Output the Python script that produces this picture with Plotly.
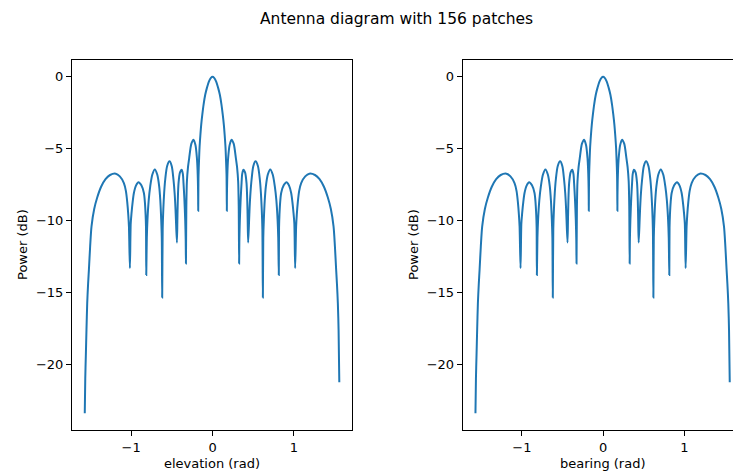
import plotly.graph_objects as go

# ---- data ----
angles = [
    -1.571, -1.565, -1.558, -1.550, -1.541, -1.530, -1.520, -1.505, -1.488, -1.455, -1.418,
    -1.370, -1.316, -1.260, -1.190, -1.140, -1.090, -1.065, -1.049, -1.036, -1.028, -1.016,
    -1.006, -0.996, -0.982, -0.967, -0.940, -0.910, -0.875, -0.844, -0.832, -0.823, -0.818, -0.815,
    -0.808, -0.800, -0.785, -0.766, -0.740, -0.710, -0.680, -0.656, -0.642, -0.631, -0.624, -0.619,
    -0.613, -0.605, -0.595, -0.582, -0.558, -0.529, -0.502, -0.480, -0.466, -0.456, -0.450, -0.438,
    -0.432, -0.427, -0.418, -0.400, -0.380, -0.365, -0.357, -0.347, -0.336, -0.330, -0.327,
    -0.322, -0.315, -0.302, -0.287, -0.260, -0.234, -0.210, -0.192, -0.184, -0.180, -0.177, -0.176,
    -0.174, -0.172, -0.166, -0.160, -0.150, -0.139, -0.125, -0.110, -0.090, -0.069, -0.045, -0.020, 0.0,
    0.020, 0.045, 0.069, 0.090, 0.110, 0.125, 0.139, 0.150, 0.160, 0.166, 0.172, 0.174,
    0.176, 0.177, 0.180, 0.184, 0.192, 0.210, 0.234, 0.260, 0.287, 0.302, 0.315, 0.322,
    0.327, 0.330, 0.336, 0.347, 0.357, 0.365, 0.380, 0.400, 0.418, 0.427, 0.432,
    0.438, 0.450, 0.456, 0.466, 0.480, 0.502, 0.529, 0.558, 0.582, 0.595, 0.605, 0.613,
    0.619, 0.624, 0.631, 0.642, 0.656, 0.680, 0.710, 0.740, 0.766, 0.785, 0.800, 0.808,
    0.815, 0.818, 0.823, 0.832, 0.844, 0.875, 0.910, 0.940, 0.967, 0.982, 0.996, 1.006,
    1.016, 1.028, 1.036, 1.049, 1.065, 1.090, 1.140, 1.190, 1.260, 1.316, 1.370, 1.418,
    1.455, 1.488, 1.505, 1.520, 1.530, 1.541, 1.550, 1.559,
]

power_db = [
    -23.4, -21.0, -19.4, -17.6, -15.75, -14.4, -13.4, -11.8, -10.4, -9.2, -8.4,
    -7.65, -7.12, -6.83, -6.74, -6.93, -7.39, -7.95, -8.70, -9.60, -10.4, -13.31,
    -10.2, -9.48, -8.70, -8.08, -7.55, -7.33, -7.55, -8.08, -8.70, -9.60, -10.5, -13.78,
    -11.2, -9.94, -8.60, -7.62, -6.80, -6.44, -6.80, -7.62, -8.60, -9.94, -11.2, -15.36,
    -10.6, -9.20, -8.10, -7.16, -6.20, -5.88, -6.20, -7.16, -8.10, -9.10, -9.94, -11.53,
    -9.90, -8.60, -7.39, -6.65, -6.46, -6.75, -7.39, -8.40, -9.94, -11.3, -12.98,
    -9.00, -7.27, -6.30, -5.65, -4.65, -4.37, -4.75, -5.65, -6.50, -7.27, -8.30, -9.32,
    -7.80, -6.80, -5.80, -4.95, -4.10, -3.32, -2.60, -1.93, -1.25, -0.77, -0.33, -0.07, 0.0,
    -0.07, -0.33, -0.77, -1.25, -1.93, -2.60, -3.32, -4.10, -4.95, -5.80, -6.80, -7.80,
    -9.32, -8.30, -7.27, -6.50, -5.65, -4.75, -4.37, -4.65, -5.65, -6.30, -7.27, -9.00,
    -12.98, -11.3, -9.94, -8.40, -7.39, -6.75, -6.46, -6.65, -7.39, -8.60, -9.90,
    -11.53, -9.94, -9.10, -8.10, -7.16, -6.20, -5.88, -6.20, -7.16, -8.10, -9.20, -10.6,
    -15.36, -11.2, -9.94, -8.60, -7.62, -6.80, -6.44, -6.80, -7.62, -8.60, -9.94, -11.2,
    -13.78, -10.5, -9.60, -8.70, -8.08, -7.55, -7.33, -7.55, -8.08, -8.70, -9.48, -10.2,
    -13.31, -10.4, -9.60, -8.70, -7.95, -7.39, -6.93, -6.74, -6.83, -7.12, -7.65, -8.4,
    -9.2, -10.4, -11.8, -13.4, -14.4, -15.75, -17.6, -21.25,
]

assert len(angles) == len(power_db)

title_text = "Antenna diagram with 156 patches"
x_titles = ["elevation (rad)", "bearing (rad)"]
y_title = "Power (dB)"
x_tickvals = [-1, 0, 1]
y_tickvals = [0, -5, -10, -15, -20]

W, H = 733, 471
FONT = "DejaVu Sans"
LINE_COLOR = "#1f77b4"

fig = go.Figure()
for xa, ya in (("x", "y"), ("x2", "y2")):
    fig.add_trace(go.Scatter(x=angles, y=power_db, mode="lines",
                             line=dict(color=LINE_COLOR, width=2, shape="spline", smoothing=0.8),
                             xaxis=xa, yaxis=ya, showlegend=False, hoverinfo="skip"))

def px_x(p):
    return p / W

def px_y(p):
    return 1 - p / H

ydom = [px_y(430), px_y(60)]
common = dict(showline=True, linecolor="black", linewidth=1, ticks="outside",
              ticklen=5, tickwidth=1, tickcolor="black", showgrid=False,
              zeroline=False, tickfont=dict(family=FONT, size=13, color="black"))

fig.update_layout(
    width=W, height=H,
    margin=dict(l=0, r=0, t=0, b=0),
    paper_bgcolor="white", plot_bgcolor="white",
    font=dict(family=FONT, color="black"),
    xaxis=dict(domain=[px_x(72), px_x(352)], range=[-1.728, 1.715],
               tickvals=x_tickvals, mirror=True, anchor="y", **common),
    yaxis=dict(domain=ydom, range=[-24.57, 1.17], tickvals=y_tickvals,
               mirror=True, anchor="x", **common),
    xaxis2=dict(domain=[px_x(462.7), 1.0], range=[-1.728, 1.599],
                tickvals=x_tickvals, mirror=True, anchor="y2", **common),
    yaxis2=dict(domain=ydom, range=[-24.57, 1.17], tickvals=y_tickvals,
                mirror=False, anchor="x2", **common),
)

annotations = [
    dict(text=title_text, x=px_x(396.7), y=px_y(19), xref="paper", yref="paper",
         showarrow=False, font=dict(family=FONT, size=15.5, color="black"),
         xanchor="center", yanchor="middle"),
    dict(text=x_titles[0], x=px_x(212), y=px_y(463), xref="paper", yref="paper",
         showarrow=False, font=dict(family=FONT, size=13, color="black"),
         xanchor="center", yanchor="middle"),
    dict(text=x_titles[1], x=px_x(603), y=px_y(463), xref="paper", yref="paper",
         showarrow=False, font=dict(family=FONT, size=13, color="black"),
         xanchor="center", yanchor="middle"),
    dict(text=y_title, x=px_x(22), y=px_y(245), xref="paper", yref="paper",
         showarrow=False, textangle=-90, font=dict(family=FONT, size=13, color="black"),
         xanchor="center", yanchor="middle"),
    dict(text=y_title, x=px_x(413), y=px_y(245), xref="paper", yref="paper",
         showarrow=False, textangle=-90, font=dict(family=FONT, size=13, color="black"),
         xanchor="center", yanchor="middle"),
]
fig.update_layout(annotations=annotations)

fig.write_html("out.html")
